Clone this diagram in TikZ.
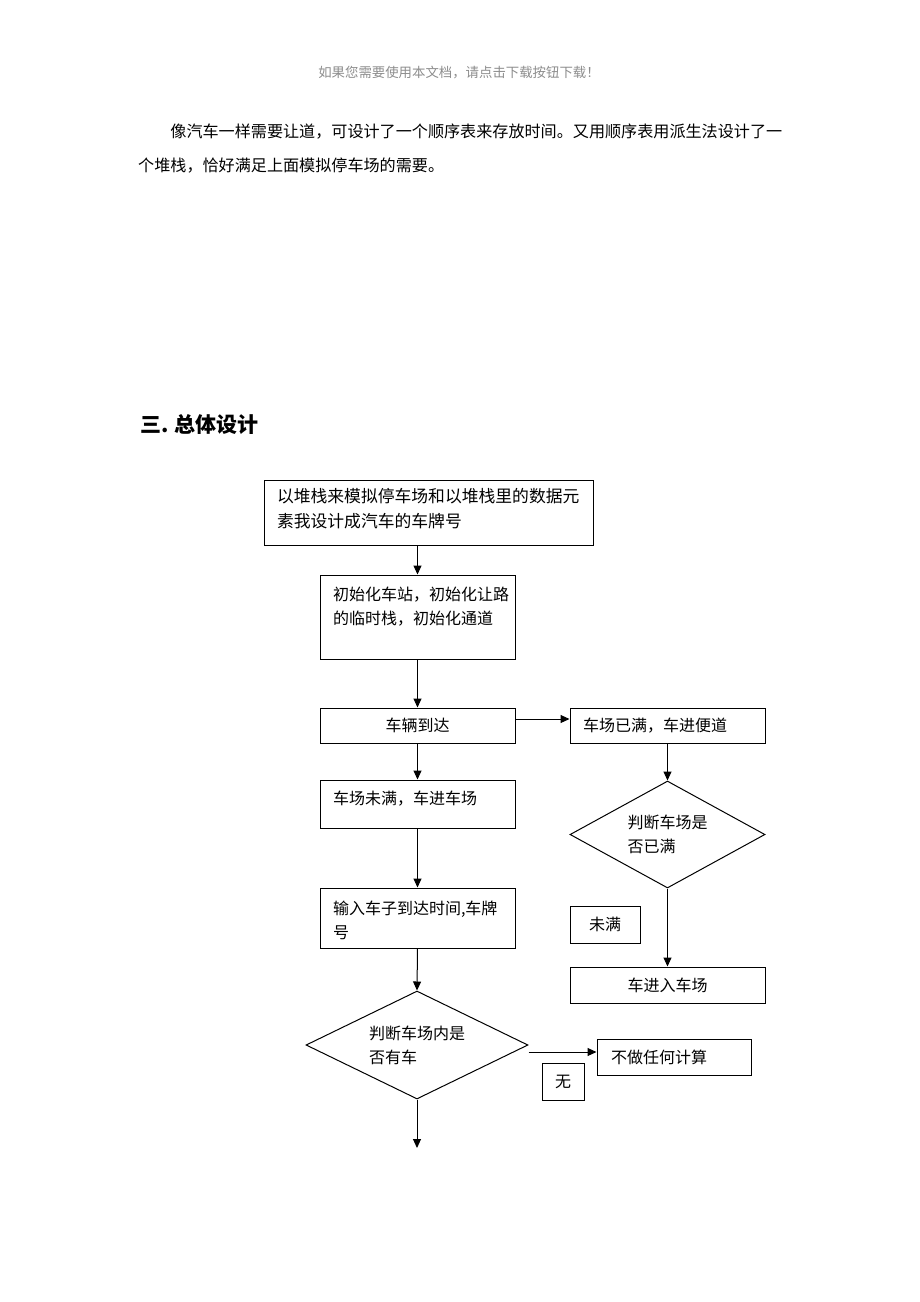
\documentclass[tikz,border=0pt]{standalone}
\usepackage{fontspec}
\newfontfamily\cjk{Noto Sans CJK SC}
\usetikzlibrary{positioning,shapes.geometric,arrows.meta,calc}
\definecolor{headgray}{gray}{0.55}

\begin{document}
\begin{tikzpicture}[
    x=1pt, y=-1pt,
    box/.style={rectangle, draw=black, line width=1pt, inner sep=0pt, font=\cjk\fontsize{16}{24}\selectfont},
    leftbox/.style={box, align=left, text width=#1},
    decision/.style={diamond, draw=black, line width=1pt, inner sep=0pt, align=left, font=\cjk\fontsize{16}{24}\selectfont},
    arrow/.style={-{Triangle[length=9pt,width=8pt]}, line width=1pt},
    plain/.style={inner sep=0pt, font=\cjk}
]
    \useasboundingbox (0,0) rectangle (920,1302);

    \node[plain, text=headgray, font=\cjk\fontsize{13.4}{16}\selectfont] (header) at (459,73) {如果您需要使用本文档，请点击下载按钮下载！};
    \node[plain, anchor=west, align=left, font=\cjk\fontsize{16.1}{34}\selectfont] (intro) at (138,148.5)
        {\hspace*{2em}像汽车一样需要让道，可设计了一个顺序表来存放时间。又用顺序表用派生法设计了一\\个堆栈，恰好满足上面模拟停车场的需要。};
    \node[plain, anchor=west, font=\cjk\bfseries\fontsize{21}{24}\selectfont] (title) at (140,425) {三. 总体设计};

    \node[leftbox=303, minimum width=329, text height=22pt, text depth=43pt, font=\cjk\fontsize{16.8}{25}\selectfont] (stack) at (428.5,512.5)
        {以堆栈来模拟停车场和以堆栈里的数据元\\素我设计成汽车的车牌号};
    \node[leftbox=169, minimum width=195, text height=25pt, text depth=59pt] (init) at (417.5,617)
        {初始化车站，初始化让路\\的临时栈，初始化通道};
    \node[box, minimum width=195, minimum height=35] (arrive) at (417.5,725.5) {车辆到达};
    \node[leftbox=169, minimum width=195, minimum height=35] (full) at (667.5,725.5) {车场已满，车进便道};
    \node[leftbox=169, minimum width=195, text height=24pt, text depth=24pt] (enter) at (417.5,804) {车场未满，车进车场};
    \node[leftbox=169, minimum width=195, text height=26pt, text depth=34pt] (input) at (417.5,918)
        {输入车子到达时间,车牌\\号};
    \node[decision, aspect=2.05, text width=96, minimum width=222, minimum height=108] (hascar) at (417,1045) {判断车场内是\\否有车};
    \node[decision, aspect=1.82, text width=80, minimum width=195, minimum height=107] (check) at (667.5,834.5) {判断车场是\\否已满};
    \node[box, minimum width=70, minimum height=37] (notfull) at (605,924.5) {未满};
    \node[box, minimum width=195, minimum height=36] (park) at (667.5,985) {车进入车场};
    \node[leftbox=126, minimum width=154, minimum height=36] (nocalc) at (674,1057) {不做任何计算};
    \node[box, minimum width=42, minimum height=37] (none) at (563,1081.5) {无};
    \coordinate (next) at (417,1148);

    \draw[arrow] (init.north |- stack.south) -- (init.north);
    \draw[arrow] (init.south) -- (arrive.north);
    \draw[arrow] ([yshift=6.5pt]arrive.east) -- ([yshift=6.5pt]full.west);
    \draw[arrow] (arrive.south) -- (enter.north);
    \draw[arrow] (enter.south) -- (input.north);
    \draw[arrow] (input.south) -- (hascar.north);
    \draw[arrow] ([yshift=-7pt]hascar.east) -- ([yshift=5pt]nocalc.west);
    \draw[arrow] (hascar.south) -- (next);
    \draw[arrow] (full.south) -- (check.north);
    \draw[arrow] (check.south) -- (park.north);
\end{tikzpicture}
\end{document}
